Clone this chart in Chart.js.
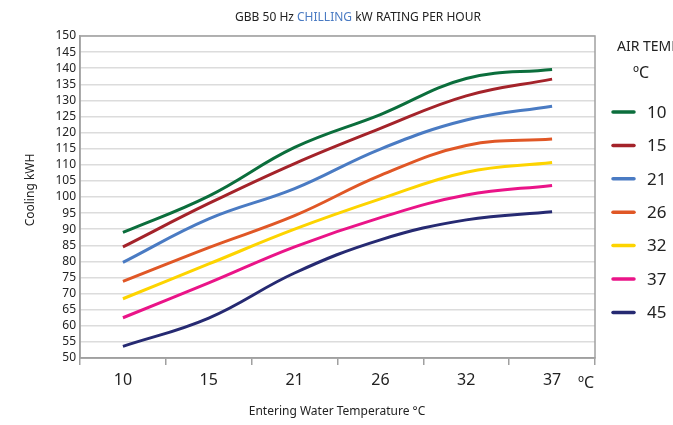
<!DOCTYPE html>
<html>
<head>
<meta charset="utf-8">
<script src="https://cdn.jsdelivr.net/npm/chart.js@4"></script>
<style>
	html, body { margin: 0; padding: 0; background: #fff; }
	#wrap { width: 673px; height: 425px; }
</style>
</head>
<body>
<div id="wrap"><canvas id="coolingChart" width="673" height="425"></canvas></div>
<script>
// 입수 온도 (x축)
const waterTemps = ['10', '15', '21', '26', '32', '37'];
// 외기 온도별 시리즈
const airTemps = ['10', '15', '21', '26', '32', '37', '45'];
const air10 = [89, 100.3, 115.4, 125.6, 136.8, 139.6];
const air15 = [84.5, 98, 110.4, 121.3, 131.4, 136.6];
const air21 = [79.7, 93.2, 102.6, 114.9, 123.9, 128.2];
const air26 = [73.8, 84.3, 94.2, 106.7, 116, 118];
const air32 = [68.4, 79.2, 90, 99.4, 107.7, 110.7];
const air37 = [62.5, 73.3, 84.5, 93.6, 100.6, 103.6];
const air45 = [53.6, 62.4, 76.4, 86.7, 92.9, 95.4];
const seriesColors = ['#0b6e3c', '#a4232a', '#4a7bc3', '#e05726', '#fdd400', '#ea1488', '#262a72'];
const yTicks = { min: 50, max: 150, step: 5 };

const FONT = "'Noto Sans', sans-serif";

document.addEventListener('DOMContentLoaded', function() {
	initCoolingChart();
});

/**
 * 제목, 축 제목, 범례 그리기
 */
const decorPlugin = {
	id: 'decor',
	afterDraw: function(chart) {
		const ctx = chart.ctx;
		const area = chart.chartArea;
		ctx.save();

		// 플롯 테두리
		ctx.strokeStyle = '#a0a0a0';
		ctx.lineWidth = 1.5;
		ctx.strokeRect(area.left, area.top, area.right - area.left, area.bottom - area.top);

		// 제목 (CHILLING 파란색)
		ctx.font = '12px ' + FONT;
		ctx.textBaseline = 'middle';
		ctx.textAlign = 'left';
		const parts = [['GBB 50 Hz ', '#222'], ['CHILLING', '#4a7bc3'], [' kW RATING PER HOUR', '#222']];
		let total = 0;
		parts.forEach(function(p) { total += ctx.measureText(p[0]).width; });
		let x = 358 - total / 2;
		parts.forEach(function(p) {
			ctx.fillStyle = p[1];
			ctx.fillText(p[0], x, 18);
			x += ctx.measureText(p[0]).width;
		});

		// 축 제목
		ctx.fillStyle = '#222';
		ctx.textAlign = 'center';
		ctx.font = '12px ' + FONT;
		ctx.fillText('Entering Water Temperature \u00B0C', 337, 412);
		ctx.save();
		ctx.translate(31, 190);
		ctx.rotate(-Math.PI / 2);
		ctx.fillText('Cooling kWH', 0, 0);
		ctx.restore();

		// x축 단위
		ctx.font = '16px ' + FONT;
		ctx.textAlign = 'left';
		ctx.fillText('\u00BAC', 578, 383);

		// 범례 (오른쪽 끝에서 잘림)
		ctx.font = '14px ' + FONT;
		ctx.fillText('AIR TEMP', 617, 47);
		ctx.font = '16px ' + FONT;
		ctx.fillText('\u00BAC', 633, 73);
		chart.data.datasets.forEach(function(ds, i) {
			const y = 112 + i * 33.4;
			ctx.strokeStyle = ds.borderColor;
			ctx.lineWidth = 3.5;
			ctx.lineCap = 'round';
			ctx.beginPath();
			ctx.moveTo(613, y);
			ctx.lineTo(634, y);
			ctx.stroke();
			ctx.fillStyle = '#222';
			ctx.font = '17px ' + FONT;
			ctx.fillText(ds.label, 647, y + 1);
		});
		ctx.restore();
	}
};

/**
 * 냉방 능력 라인 차트 초기화
 */
function initCoolingChart() {
	const ctx = document.getElementById('coolingChart').getContext('2d');
	const seriesData = [air10, air15, air21, air26, air32, air37, air45];
	new Chart(ctx, {
		type: 'line',
		data: {
			labels: waterTemps,
			datasets: airTemps.map(function(t, i) {
				return {
					label: t,
					data: seriesData[i],
					borderColor: seriesColors[i],
					backgroundColor: seriesColors[i],
					borderWidth: 3,
					pointRadius: 0,
					tension: 0.4,
					fill: false
				};
			})
		},
		options: {
			responsive: false,
			animation: false,
			layout: {
				padding: { top: 36, right: 78, left: 0, bottom: 0 }
			},
			scales: {
				x: {
					offset: true,
					grid: {
						offset: true,
						drawOnChartArea: false,
						drawTicks: true,
						tickLength: 7,
						color: '#a0a0a0',
						lineWidth: 1.5
					},
					border: { color: '#a0a0a0', width: 1.5 },
					ticks: {
						color: '#222',
						font: { family: FONT, size: 16 },
						padding: 6,
						maxRotation: 0
					},
					afterFit: function(scale) { scale.height = 67; }
				},
				y: {
					min: yTicks.min,
					max: yTicks.max,
					grid: {
						color: '#dcdcdc',
						lineWidth: 1.5,
						drawTicks: false
					},
					border: { color: '#a0a0a0', width: 1.5 },
					ticks: {
						stepSize: yTicks.step,
						autoSkip: false,
						color: '#222',
						font: { family: FONT, size: 12 },
						padding: 4
					},
					afterFit: function(scale) { scale.width = 80; }
				}
			},
			plugins: {
				legend: { display: false },
				title: { display: false },
				tooltip: { enabled: false }
			}
		},
		plugins: [decorPlugin]
	});
}
</script>
</body>
</html>
